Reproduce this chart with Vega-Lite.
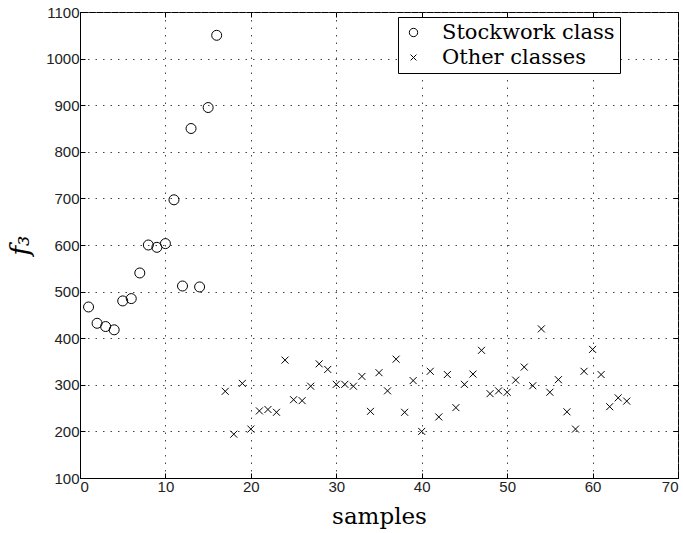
{
  "$schema": "https://vega.github.io/schema/vega-lite/v6.json",
  "autosize": {"type": "none"},
  "padding": {"left": 80, "top": 12, "right": 5, "bottom": 55},
  "width": 598,
  "height": 466,
  "background": "white",
  "config": {
    "view": {"stroke": "black", "strokeWidth": 1},
    "axis": {
      "labelFont": "Liberation Sans",
      "labelFontSize": 15,
      "labelColor": "#222",
      "tickColor": "black",
      "domainColor": "black",
      "tickSize": -5,
      "gridColor": "#444",
      "gridDash": [1.5, 6],
      "gridOpacity": 1,
      "gridWidth": 1,
      "titleFont": "DejaVu Serif",
      "titleFontWeight": "normal",
      "titleColor": "black"
    }
  },
  "data": {
    "values": [
      {"sample": 1, "f3": 467, "group": "Stockwork class"},
      {"sample": 2, "f3": 432, "group": "Stockwork class"},
      {"sample": 3, "f3": 425, "group": "Stockwork class"},
      {"sample": 4, "f3": 418, "group": "Stockwork class"},
      {"sample": 5, "f3": 480, "group": "Stockwork class"},
      {"sample": 6, "f3": 485, "group": "Stockwork class"},
      {"sample": 7, "f3": 540, "group": "Stockwork class"},
      {"sample": 8, "f3": 600, "group": "Stockwork class"},
      {"sample": 9, "f3": 595, "group": "Stockwork class"},
      {"sample": 10, "f3": 603, "group": "Stockwork class"},
      {"sample": 11, "f3": 697, "group": "Stockwork class"},
      {"sample": 12, "f3": 512, "group": "Stockwork class"},
      {"sample": 13, "f3": 850, "group": "Stockwork class"},
      {"sample": 14, "f3": 510, "group": "Stockwork class"},
      {"sample": 15, "f3": 895, "group": "Stockwork class"},
      {"sample": 16, "f3": 1050, "group": "Stockwork class"},
      {"sample": 17, "f3": 286, "group": "Other classes"},
      {"sample": 18, "f3": 194, "group": "Other classes"},
      {"sample": 19, "f3": 303, "group": "Other classes"},
      {"sample": 20, "f3": 205, "group": "Other classes"},
      {"sample": 21, "f3": 244, "group": "Other classes"},
      {"sample": 22, "f3": 247, "group": "Other classes"},
      {"sample": 23, "f3": 241, "group": "Other classes"},
      {"sample": 24, "f3": 353, "group": "Other classes"},
      {"sample": 25, "f3": 268, "group": "Other classes"},
      {"sample": 26, "f3": 266, "group": "Other classes"},
      {"sample": 27, "f3": 297, "group": "Other classes"},
      {"sample": 28, "f3": 345, "group": "Other classes"},
      {"sample": 29, "f3": 333, "group": "Other classes"},
      {"sample": 30, "f3": 301, "group": "Other classes"},
      {"sample": 31, "f3": 301, "group": "Other classes"},
      {"sample": 32, "f3": 297, "group": "Other classes"},
      {"sample": 33, "f3": 318, "group": "Other classes"},
      {"sample": 34, "f3": 243, "group": "Other classes"},
      {"sample": 35, "f3": 326, "group": "Other classes"},
      {"sample": 36, "f3": 287, "group": "Other classes"},
      {"sample": 37, "f3": 355, "group": "Other classes"},
      {"sample": 38, "f3": 241, "group": "Other classes"},
      {"sample": 39, "f3": 309, "group": "Other classes"},
      {"sample": 40, "f3": 200, "group": "Other classes"},
      {"sample": 41, "f3": 329, "group": "Other classes"},
      {"sample": 42, "f3": 231, "group": "Other classes"},
      {"sample": 43, "f3": 322, "group": "Other classes"},
      {"sample": 44, "f3": 251, "group": "Other classes"},
      {"sample": 45, "f3": 301, "group": "Other classes"},
      {"sample": 46, "f3": 323, "group": "Other classes"},
      {"sample": 47, "f3": 374, "group": "Other classes"},
      {"sample": 48, "f3": 281, "group": "Other classes"},
      {"sample": 49, "f3": 287, "group": "Other classes"},
      {"sample": 50, "f3": 284, "group": "Other classes"},
      {"sample": 51, "f3": 310, "group": "Other classes"},
      {"sample": 52, "f3": 338, "group": "Other classes"},
      {"sample": 53, "f3": 298, "group": "Other classes"},
      {"sample": 54, "f3": 420, "group": "Other classes"},
      {"sample": 55, "f3": 284, "group": "Other classes"},
      {"sample": 56, "f3": 311, "group": "Other classes"},
      {"sample": 57, "f3": 242, "group": "Other classes"},
      {"sample": 58, "f3": 205, "group": "Other classes"},
      {"sample": 59, "f3": 329, "group": "Other classes"},
      {"sample": 60, "f3": 376, "group": "Other classes"},
      {"sample": 61, "f3": 322, "group": "Other classes"},
      {"sample": 62, "f3": 253, "group": "Other classes"},
      {"sample": 63, "f3": 272, "group": "Other classes"},
      {"sample": 64, "f3": 265, "group": "Other classes"}
    ]
  },
  "layer": [
    {
      "mark": {"type": "point", "filled": false, "stroke": "black", "strokeWidth": 1, "size": 100, "opacity": 1},
      "encoding": {
        "x": {
          "field": "sample", "type": "quantitative",
          "scale": {"domain": [0, 70], "nice": false, "zero": false},
          "axis": {"values": [0, 10, 20, 30, 40, 50, 60, 70], "title": "samples", "titleFontSize": 23, "titlePadding": 11, "labelPadding": 6, "grid": true}
        },
        "y": {
          "field": "f3", "type": "quantitative",
          "scale": {"domain": [100, 1100], "nice": false, "zero": false},
          "axis": {"values": [100, 200, 300, 400, 500, 600, 700, 800, 900, 1000, 1100], "format": "d", "title": "f₃", "titleFontSize": 26, "titleFontStyle": "italic", "titlePadding": 12, "labelPadding": 6, "grid": true}
        },
        "shape": {
          "field": "group", "type": "nominal",
          "scale": {"domain": ["Stockwork class", "Other classes"], "range": ["circle", "M-0.7,-0.7L0.7,0.7M-0.7,0.7L0.7,-0.7"]},
          "legend": {
            "title": null,
            "orient": "none",
            "legendX": 318,
            "legendY": 5,
            "strokeColor": "black",
            "fillColor": "white",
            "padding": 5,
            "symbolSize": 70,
            "symbolStrokeColor": "black",
            "symbolStrokeWidth": 1,
            "labelFont": "DejaVu Serif",
            "labelFontSize": 21,
            "labelColor": "black",
            "labelOffset": 18,
            "labelLimit": 400,
            "rowPadding": 3
          }
        }
      }
    },
    {
      "mark": {"type": "point", "opacity": 0},
      "encoding": {
        "x": {"field": "sample", "type": "quantitative", "axis": {"orient": "top", "labels": false, "title": null, "grid": false, "domain": false, "values": [0, 10, 20, 30, 40, 50, 60, 70]}},
        "y": {"field": "f3", "type": "quantitative", "axis": {"orient": "right", "labels": false, "title": null, "grid": false, "domain": false, "values": [100, 200, 300, 400, 500, 600, 700, 800, 900, 1000, 1100]}}
      }
    }
  ],
  "resolve": {"axis": {"x": "independent", "y": "independent"}}
}
